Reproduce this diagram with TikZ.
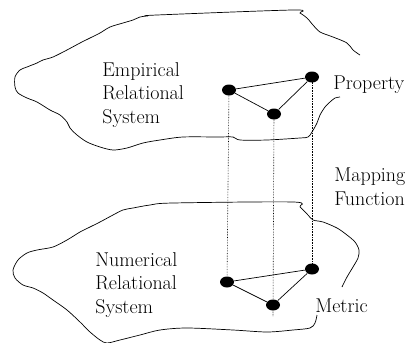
\documentclass[tikz,border=0pt]{standalone}
\usetikzlibrary{shapes.geometric}
\tikzset{
  dot/.style={ellipse,fill=black,inner sep=0pt,minimum width=14pt,minimum height=11pt},
  label/.style={anchor=base west,inner sep=0pt,align=left,font=\fontsize{20}{23.5}\selectfont},
  mapline/.style={densely dotted,line width=0.6pt}
}
\begin{document}
\begin{tikzpicture}[x=1pt,y=-1pt,line width=0.7pt]
            \useasboundingbox (0,0) rectangle (416,343);
            % empirical relational system
            \draw plot[smooth,tension=0.5] coordinates {(360,55) (353,50) (347,43) (333,37) (320,32) (313,25) (307,18) (300,13) (293,10)
                (157,15) (147,16) (140,17) (133,20) (123,23) (110,27) (100,33) (90,38) (80,43) (67,50) (53,57) (43,60) (37,63)
                (27,67) (20,70) (15,77) (15,87) (18,93) (27,98) (37,102) (50,110) (60,115) (67,122) (70,128) (77,135) (87,142)
                (100,147) (113,150) (127,148) (143,143) (160,140) (183,137) (217,137) (233,137) (240,140) (267,140) (300,138)
                (308,137) (312,132) (317,123) (320,115) (325,107) (330,102) (335,98) (340,97)};
            \node [label] (emp) at (102,123) {Empirical\\Relational\\System};
            \node [label] (prop) at (333,89) {Property};
            \node [dot] (e1) at (229,90) {};
            \node [dot] (e2) at (312,77) {};
            \node [dot] (e3) at (274,114) {};
            \draw (e1) -- (e2) -- (e3) -- (e1);
            % numerical relational system
            \draw plot[smooth,tension=0.5] coordinates {(342,287) (347,277) (353,267) (358,258) (359,250) (355,242) (347,235)
                (337,228) (323,222) (313,220) (308,215) (300,207) (293,202) (173,203) (150,205) (133,208) (123,210) (113,215)
                (100,222) (90,227) (80,232) (67,240) (53,247) (37,250) (27,253) (18,260) (13,270) (15,278) (23,285) (33,288)
                (43,293) (53,300) (67,310) (80,322) (90,332) (100,340) (107,343) (120,340) (140,335) (160,330) (187,328)
                (233,330) (267,332) (293,330) (310,328) (315,323) (317,315)};
            \node [label] (num) at (95,313) {Numerical\\Relational\\System};
            \node [label] (met) at (315,312) {Metric};
            \node [dot] (n1) at (227,282) {};
            \node [dot] (n2) at (312,269) {};
            \node [dot] (n3) at (273,305) {};
            \draw (n1) -- (n2) -- (n3) -- (n1);
            % mapping
            \node [label] (map) at (334,205) {Mapping\\Function};
            \coordinate (n3end) at (273,316);
            \draw [mapline] (e1.center) -- (n1.center);
            \draw [mapline] (e2.center) -- (n2.center);
            \draw [mapline] (e3.center) -- (n3end);
        \end{tikzpicture}
\end{document}
